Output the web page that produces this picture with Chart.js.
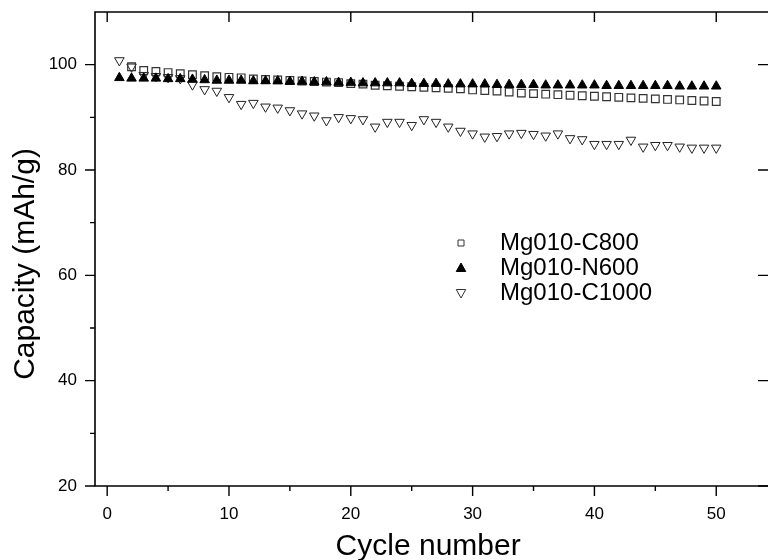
<!DOCTYPE html>
<html><head><meta charset="utf-8">
<script src="https://cdn.jsdelivr.net/npm/chart.js@4.4.1/dist/chart.umd.min.js"></script>
<style>html,body{margin:0;padding:0;background:#fff;}#wrap{width:768px;height:560px;position:relative;}</style>
</head><body><div id="wrap"><canvas id="c" width="768" height="560"></canvas></div>
<script>
const cycles = [1,2,3,4,5,6,7,8,9,10,11,12,13,14,15,16,17,18,19,20,21,22,23,24,25,26,27,28,29,30,31,32,33,34,35,36,37,38,39,40,41,42,43,44,45,46,47,48,49,50];
const c800 = [null,99.6,98.9,98.7,98.5,98.3,98.1,97.9,97.7,97.6,97.5,97.3,97.2,97.1,97.0,96.9,96.8,96.7,96.6,96.4,96.3,96.1,96.0,95.9,95.8,95.7,95.6,95.5,95.4,95.2,95.1,95.0,94.8,94.6,94.5,94.4,94.3,94.2,94.1,94.0,93.9,93.8,93.7,93.6,93.5,93.4,93.3,93.2,93.1,93.0];
const n600 = [97.5,97.4,97.4,97.4,97.3,97.3,97.2,97.1,97.0,97.0,97.0,96.9,96.9,96.9,96.8,96.8,96.7,96.7,96.6,96.6,96.5,96.5,96.5,96.5,96.4,96.4,96.4,96.3,96.3,96.3,96.3,96.2,96.2,96.2,96.2,96.1,96.1,96.1,96.1,96.1,96.0,96.0,96.0,96.0,96.0,96.0,95.9,95.9,95.9,95.9];
const c1000 = [100.8,99.6,98.0,97.8,97.6,97.4,96.2,95.3,95.0,93.8,92.5,92.7,92.0,91.8,91.3,90.7,90.3,89.4,90.0,89.8,89.6,88.2,89.1,89.1,88.5,89.6,89.1,88.2,87.4,86.9,86.3,86.4,86.9,87.0,86.8,86.5,86.9,86.0,85.8,84.9,84.9,84.9,85.7,84.4,84.7,84.7,84.4,84.2,84.2,84.2];
const seriesNames = ['Mg010-C800','Mg010-N600','Mg010-C1000'];
const xTicks = [0,10,20,30,40,50];
const yTicks = [20,40,60,80,100];
const xMinorTicks = [5,15,25,35,45];
const yMinorTicks = [30,50,70,90];
const yTitle = 'Capacity (mAh/g)';

Chart.defaults.font.family = '"Liberation Sans", Arial, sans-serif';
Chart.defaults.color = '#000';

function pts(arr){ return cycles.map((c,i)=>({x:c,y:arr[i]})).filter(p=>p.y!==null); }

function marker(ctx, style, x, y, r, fill, stroke, lw){
  ctx.save();
  ctx.lineWidth = lw; ctx.strokeStyle = stroke; ctx.fillStyle = fill;
  ctx.beginPath();
  if (style === 'rect') {
    ctx.rect(x - r, y - r, 2*r, 2*r);
  } else if (style === 'up') {
    ctx.moveTo(x, y - r); ctx.lineTo(x + r*0.95, y + r*0.7); ctx.lineTo(x - r*0.95, y + r*0.7); ctx.closePath();
  } else {
    ctx.moveTo(x, y + r); ctx.lineTo(x + r*0.95, y - r*0.7); ctx.lineTo(x - r*0.95, y - r*0.7); ctx.closePath();
  }
  if (fill !== 'none') ctx.fill();
  ctx.stroke();
  ctx.restore();
}

const framePlugin = {
  id: 'frame',
  afterDraw(chart){
    const {ctx, chartArea:a, scales:{x, y}} = chart;
    const edge = chart.width;
    ctx.save();
    ctx.strokeStyle = '#000';
    ctx.lineWidth = 1.6;
    ctx.beginPath();
    ctx.moveTo(edge, a.top); ctx.lineTo(a.left, a.top); ctx.lineTo(a.left, a.bottom); ctx.lineTo(edge, a.bottom);
    ctx.stroke();
    ctx.lineWidth = 1.4;
    ctx.beginPath();
    xTicks.forEach(v=>{ const p = x.getPixelForValue(v);
      ctx.moveTo(p, a.bottom); ctx.lineTo(p, a.bottom + 10);
      ctx.moveTo(p, a.top); ctx.lineTo(p, a.top + 10); });
    xMinorTicks.forEach(v=>{ const p = x.getPixelForValue(v);
      ctx.moveTo(p, a.bottom); ctx.lineTo(p, a.bottom + 5); });
    yTicks.forEach(v=>{ const p = y.getPixelForValue(v);
      ctx.moveTo(a.left, p); ctx.lineTo(a.left - 10, p);
      ctx.moveTo(edge, p); ctx.lineTo(edge - 10, p); });
    yMinorTicks.forEach(v=>{ const p = y.getPixelForValue(v);
      ctx.moveTo(a.left, p); ctx.lineTo(a.left - 5, p); });
    ctx.stroke();
    // y axis title (centred slightly below the plot middle, as in the reference)
    ctx.save();
    ctx.translate(26, 264);
    ctx.rotate(-Math.PI/2);
    ctx.font = '30px "Liberation Sans", Arial, sans-serif';
    ctx.textAlign = 'center';
    ctx.textBaseline = 'middle';
    ctx.fillStyle = '#000';
    ctx.fillText(yTitle, 0, 0);
    ctx.restore();
    // legend
    const lx = 461, tx = 500, ly0 = 243, dy = 25;
    ctx.font = '24px "Liberation Sans", Arial, sans-serif';
    ctx.fillStyle = '#000';
    ctx.textBaseline = 'middle';
    ctx.textAlign = 'left';
    const styles = [['rect',3,'none','#333',1],['up',5,'#000','#000',1],['down',5,'none','#333',1]];
    seriesNames.forEach((n,i)=>{
      const yy = ly0 + i*dy;
      const s = styles[i];
      marker(ctx, s[0], lx, yy, s[1], s[2], s[3], s[4]);
      ctx.fillText(n, tx, yy);
    });
    ctx.restore();
  }
};

new Chart(document.getElementById('c'), {
  type: 'scatter',
  data: {
    datasets: [
      { label: seriesNames[0], data: pts(c800), order: 1, pointStyle: 'rect', pointRadius: 5.4, borderColor: '#333', backgroundColor: 'rgba(0,0,0,0)', borderWidth: 1.2, showLine: false },
      { label: seriesNames[1], data: pts(n600), order: 0, pointStyle: 'triangle', pointRadius: 5.5, borderColor: '#000', backgroundColor: '#000', borderWidth: 1, showLine: false },
      { label: seriesNames[2], data: pts(c1000), order: 2, pointStyle: 'triangle', rotation: 180, pointRadius: 5.5, borderColor: '#222', backgroundColor: 'rgba(0,0,0,0)', borderWidth: 1, showLine: false }
    ]
  },
  options: {
    responsive: false,
    animation: false,
    devicePixelRatio: 1,
    layout: { padding: { left: 0, top: 12, right: 0, bottom: 0 } },
    plugins: { legend: { display: false }, tooltip: { enabled: false } },
    elements: { point: { hoverRadius: 5.5 } },
    scales: {
      x: {
        type: 'linear', min: -1, max: 53.7,
        afterBuildTicks: s => { s.ticks = xTicks.map(v=>({value:v})); },
        afterFit: s => { s.height = 74; s.paddingLeft = 0; s.paddingRight = 0; s.paddingTop = 0; s.paddingBottom = 0; },
        ticks: { font: { size: 17 }, padding: 8, maxRotation: 0, color: '#000' },
        grid: { display: false, drawTicks: true, tickLength: 10 },
        border: { display: false },
        title: { display: true, text: 'Cycle number', font: { size: 30, lineHeight: 0.9 }, padding: 0, color: '#000' }
      },
      y: {
        type: 'linear', min: 20, max: 110,
        afterBuildTicks: s => { s.ticks = yTicks.map(v=>({value:v})); },
        afterFit: s => { s.width = 95; s.paddingLeft = 0; s.paddingRight = 0; s.paddingTop = 0; s.paddingBottom = 0; },
        ticks: { font: { size: 17 }, padding: 8, color: '#000' },
        grid: { display: false, drawTicks: true, tickLength: 10 },
        border: { display: false },
        title: { display: false, text: yTitle }
      }
    }
  },
  plugins: [framePlugin]
});
</script>
</body></html>
